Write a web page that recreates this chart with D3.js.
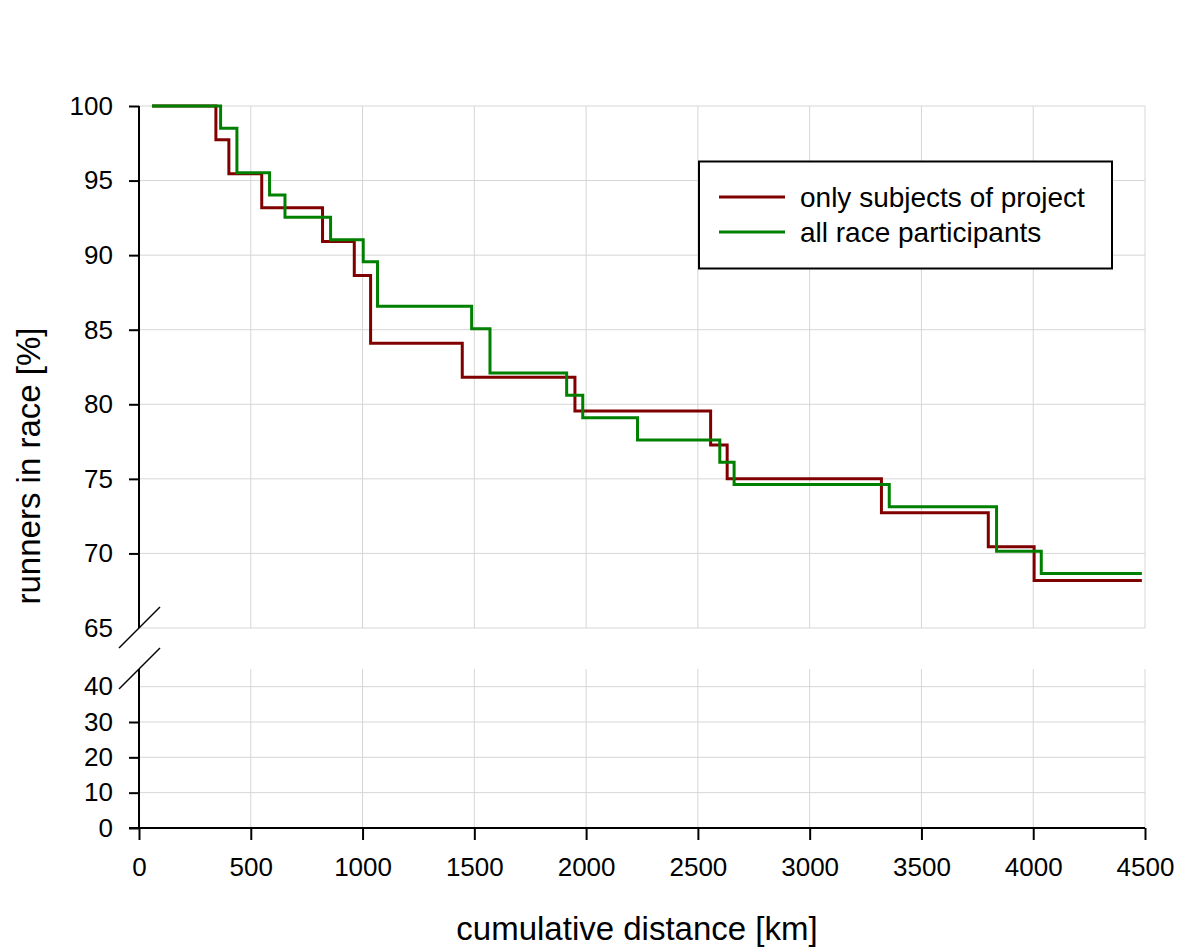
<!DOCTYPE html>
<html><head><meta charset="utf-8">
<script src="https://cdn.jsdelivr.net/npm/d3@7"></script>
<style>
html,body{margin:0;padding:0;background:#fff;}
svg{display:block;font-family:"Liberation Sans",Arial,Helvetica,sans-serif;}
</style></head>
<body><svg id="chart" width="1200" height="952"></svg>
<script>
// ---- data ----
const seriesNames = ["only subjects of project", "all race participants"];
const subjectsDistance = [58, 344, 402, 549, 821, 963, 1036, 1446, 1950, 2557, 2631, 3321, 3799, 4004, 4486];
const subjectsPercent  = [100, 97.73, 95.45, 93.18, 90.91, 88.64, 84.09, 81.82, 79.55, 77.27, 75.00, 72.73, 70.45, 68.18, 68.18];
const allDistance = [58, 365, 438, 584, 653, 857, 1003, 1067, 1488, 1570, 1913, 1985, 2230, 2598, 2662, 3356, 3836, 4036, 4486];
const allPercent  = [100, 98.51, 95.52, 94.03, 92.54, 91.04, 89.55, 86.57, 85.07, 82.09, 80.60, 79.10, 77.61, 76.12, 74.63, 73.13, 70.15, 68.66, 68.66];
const xTicks = [0, 500, 1000, 1500, 2000, 2500, 3000, 3500, 4000, 4500];
const yTicksUpper = [65, 70, 75, 80, 85, 90, 95, 100];
const yTicksLower = [0, 10, 20, 30, 40];
const colors = ["#800000", "#008000"];

// ---- layout ----
const svg = d3.select("#chart");
const x = d3.scaleLinear().domain([0, 4500]).range([139, 1145]);
const yU = d3.scaleLinear().domain([65, 100]).range([628, 106]);
const yL = d3.scaleLinear().domain([0, 45]).range([828, 669]);
const gridColor = "#d6d6d6";
const tickFont = 26;

// grid upper
const gU = svg.append("g");
gU.selectAll("line.h").data(yTicksUpper).join("line")
  .attr("x1", x(0)).attr("x2", x(4500))
  .attr("y1", d => yU(d)).attr("y2", d => yU(d))
  .attr("stroke", gridColor).attr("stroke-width", 1);
gU.selectAll("line.v").data(xTicks.slice(1)).join("line")
  .attr("x1", d => x(d)).attr("x2", d => x(d))
  .attr("y1", yU(100)).attr("y2", yU(65))
  .attr("stroke", gridColor).attr("stroke-width", 1);
// grid lower
const gL = svg.append("g");
gL.selectAll("line.h").data(yTicksLower.slice(1)).join("line")
  .attr("x1", x(0)).attr("x2", x(4500))
  .attr("y1", d => yL(d)).attr("y2", d => yL(d))
  .attr("stroke", gridColor).attr("stroke-width", 1);
gL.selectAll("line.v").data(xTicks.slice(1)).join("line")
  .attr("x1", d => x(d)).attr("x2", d => x(d))
  .attr("y1", yL(45)).attr("y2", yL(0))
  .attr("stroke", gridColor).attr("stroke-width", 1);

// axes
function styleAxis(g) {
  g.select(".domain").remove();
  g.selectAll(".tick line").attr("stroke", "#000").attr("stroke-width", 2);
  g.selectAll(".tick text").attr("fill", "#000").style("font-size", tickFont + "px")
   .style("font-family", "'Liberation Sans', Arial, sans-serif");
}
const axU = svg.append("g").attr("transform", `translate(${x(0)},0)`)
  .call(d3.axisLeft(yU).tickValues(yTicksUpper).tickSize(10).tickPadding(16));
styleAxis(axU);
axU.selectAll(".tick").filter(d => d === 65).select("line").remove();
axU.append("line").attr("x1", 0).attr("x2", 0).attr("y1", yU(100)).attr("y2", yU(65))
  .attr("stroke", "#000").attr("stroke-width", 2);

const axL = svg.append("g").attr("transform", `translate(${x(0)},0)`)
  .call(d3.axisLeft(yL).tickValues(yTicksLower).tickSize(10).tickPadding(16));
styleAxis(axL);
axL.selectAll(".tick").filter(d => d === 40).select("line").remove();
axL.append("line").attr("x1", 0).attr("x2", 0).attr("y1", yL(45)).attr("y2", yL(0))
  .attr("stroke", "#000").attr("stroke-width", 2);

const axX = svg.append("g").attr("transform", `translate(0,${yL(0)})`)
  .call(d3.axisBottom(x).tickValues(xTicks).tickSize(12).tickPadding(18).tickFormat(d3.format("d")));
styleAxis(axX);
axX.append("line").attr("x1", x(0) - 10).attr("x2", x(4500)).attr("y1", 0).attr("y2", 0)
  .attr("stroke", "#000").attr("stroke-width", 2);

// break marks
const brk = svg.append("g").attr("stroke", "#000").attr("stroke-width", 1.5);
[yU(65), yL(45)].forEach(yy => {
  brk.append("line").attr("x1", x(0) - 20).attr("y1", yy + 20).attr("x2", x(0) + 21).attr("y2", yy - 21);
});

// series
const line = d3.line().x(d => x(d[0])).y(d => yU(d[1])).curve(d3.curveStepAfter);
const series = [
  d3.zip(subjectsDistance, subjectsPercent),
  d3.zip(allDistance, allPercent)
];
svg.append("g").selectAll("path").data(series).join("path")
  .attr("d", line).attr("fill", "none")
  .attr("stroke", (d, i) => colors[i]).attr("stroke-width", 3);

// legend
const lg = svg.append("g");
lg.append("rect").attr("x", 699).attr("y", 161.5).attr("width", 413).attr("height", 107)
  .attr("fill", "#fff").attr("stroke", "#000").attr("stroke-width", 2);
seriesNames.forEach((name, i) => {
  const yy = 197 + i * 35;
  lg.append("line").attr("x1", 719).attr("x2", 785).attr("y1", yy).attr("y2", yy)
    .attr("stroke", colors[i]).attr("stroke-width", 3);
  lg.append("text").attr("x", 800).attr("y", yy).attr("dominant-baseline", "central")
    .style("font-size", "28px").attr("fill", "#000").text(name);
});

// titles
svg.append("text").attr("x", 637).attr("y", 940).attr("text-anchor", "middle")
  .style("font-size", "33px").text("cumulative distance [km]");
svg.append("text").attr("transform", "translate(28,466) rotate(-90)")
  .attr("text-anchor", "middle").attr("dominant-baseline", "central")
  .style("font-size", "33px").text("runners in race [%]");
</script></body></html>
